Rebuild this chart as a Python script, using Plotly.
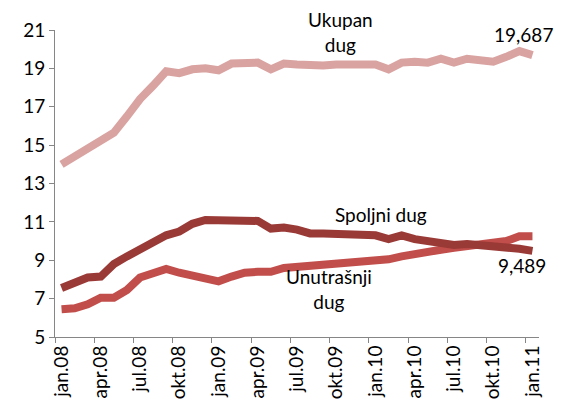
import plotly.graph_objects as go

months = ["jan", "feb", "mar", "apr", "maj", "jun", "jul", "avg", "sep", "okt", "nov", "dec"]
categories = [f"{months[i % 12]}.{8 + i // 12:02d}" for i in range(37)]

ukupan = [14.0, 14.4, 14.8, 15.2, 15.65, 16.5, 17.4, 18.1, 18.85, 18.75, 18.95, 19.0,
          18.9, 19.25, 19.3, 19.3, 18.95, 19.25, 19.2, 19.15, 19.15, 19.2, 19.2, 19.3,
          19.2, 18.95, 19.3, 19.35, 19.3, 19.5, 19.3, 19.5, 19.4, 19.35, 19.6, 19.9, 19.687]
spoljni = [7.55, 7.85, 8.1, 8.15, 8.8, 9.2, 9.6, 10.0, 10.3, 10.5, 10.9, 11.1,
           11.1, 11.15, 11.05, 11.05, 10.65, 10.7, 10.6, 10.4, 10.4, 10.4, 10.35, 10.4,
           10.3, 10.1, 10.3, 10.1, 10.0, 10.0, 9.8, 9.85, 9.8, 9.75, 9.75, 9.6, 9.489]
unutrasnji = [6.45, 6.5, 6.7, 7.05, 7.05, 7.45, 8.1, 8.35, 8.55, 8.35, 8.2, 8.05,
              7.9, 8.15, 8.35, 8.4, 8.4, 8.6, 8.65, 8.75, 8.8, 8.85, 8.9, 8.9,
              8.95, 9.05, 9.2, 9.35, 9.45, 9.55, 9.65, 9.75, 9.8, 9.9, 10.0, 10.25, 10.25]

FONT = "Lato"
FS = 19

fig = go.Figure()
fig.add_trace(go.Scatter(x=categories, y=ukupan, mode="lines", name="Ukupan dug",
                         line=dict(color="#D9A3A1", width=8)))
fig.add_trace(go.Scatter(x=categories, y=unutrasnji, mode="lines", name="Unutrašnji dug",
                         line=dict(color="#C24E4B", width=8)))
fig.add_trace(go.Scatter(x=categories, y=spoljni, mode="lines", name="Spoljni dug",
                         line=dict(color="#9A3A37", width=8)))

ann_font = dict(family=FONT, size=FS, color="#000000")
annotations = [
    dict(x=21.3, y=20.87, text="Ukupan<br>dug"),
    dict(x=24.4, y=11.4, text="Spoljni dug"),
    dict(x=20.45, y=7.52, text="Unutrašnji<br>dug"),
    dict(x=35.35, y=20.79, text="19,687"),
    dict(x=35.2, y=8.75, text="9,489"),
]
for a in annotations:
    fig.add_annotation(xref="x", yref="y", showarrow=False, font=ann_font, align="center", **a)

# page body has an 8px default margin; compensate so the plot area lands where the reference has it
fig.update_layout(
    width=555, height=399,
    margin=dict(l=47, r=24, t=22, b=70, autoexpand=False),
    paper_bgcolor="white", plot_bgcolor="white",
    showlegend=False,
    font=dict(family=FONT, color="#000000"),
)
fig.update_xaxes(
    type="category", categoryorder="array", categoryarray=categories,
    range=[-0.5, 36.5], dtick=3, tickson="boundaries",
    ticks="outside", ticklen=5, tickcolor="#868686",
    showline=True, linecolor="#868686", linewidth=1, automargin=False,
    showgrid=False, tickangle=-90, tickfont=dict(family=FONT, size=FS, color="#000000"),
)
fig.update_yaxes(
    range=[5, 21], dtick=2, tick0=5,
    ticks="outside", ticklen=5, tickcolor="#868686",
    showline=True, linecolor="#868686", linewidth=1, automargin=False,
    showgrid=False, zeroline=False, tickfont=dict(family=FONT, size=FS, color="#000000"),
)
fig.write_html("out.html")
